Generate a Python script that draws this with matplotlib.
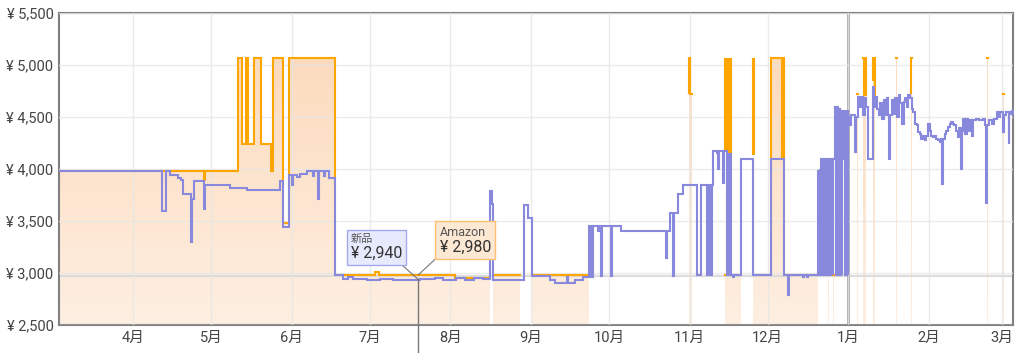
import datetime as dt
import numpy as np
import matplotlib
matplotlib.use('Agg')
import matplotlib.pyplot as plt
import matplotlib.dates as mdates
from matplotlib.path import Path
from matplotlib.colors import LinearSegmentedColormap
from matplotlib.ticker import FuncFormatter, MultipleLocator
from matplotlib.offsetbox import TextArea, VPacker, AnnotationBbox

plt.rcParams['font.family'] = ['Roboto', 'Noto Sans CJK JP', 'DejaVu Sans']

nan = np.nan
start = dt.date(2022, 3, 1)          # day 0
first_day, last_day = 2.5, 369.4
year_mark_day = 306                  # 1 Jan

# Amazon price (step data, nan = out of stock)
amazon_day = [2.5, 58.4, 58.7, 71.4, 72.9, 74.5, 75.2, 77.5, 80.2, 84.1, 84.7, 88.6, 91.1,
              108.7, 124.1, 125.6, 154.8, 168.3, 169.5, 179.8, 184.5, 206.4,
              244.8, 245.3, 245.8, 258.7, 264.8, 269.3, 276.4, 281.5, 294.3,
              298.2, 298.5, 300.1, 300.4, 309.3, 309.6, 311.8, 313.0, 315.4, 316.5,
              324.3, 324.6, 330.1, 330.5, 332.3, 332.6, 359.3, 359.6, 365.6, 365.9]
amazon_price = [3980, 3890, 3980, 5070, 4240, 5070, 4240, 5070, 4240, 3980, 5070, 3480, 5070,
                2980, 3010, 2980, 2950, nan, 2980, nan, 2980, nan,
                5070, 4720, nan, 2980, nan, 2980, 5070, 2980, nan,
                2980, nan, 2980, nan, 4720, nan, 5070, nan, 5070, nan,
                5070, nan, 5070, nan, 5070, nan, 5070, nan, 4720, nan]

# short Amazon price jumps (drawn as bars only)
spike_day = [244.9, 245.2, 258.8, 259.2, 259.9, 260.3, 260.7, 261.1, 269.3, 269.6, 280.6, 281.0,
             281.4, 312.2, 312.7, 315.5, 316.2, 330.3]
spike_top = [5070] * len(spike_day)
spike_bottom = [4720, 4720, 4180, 4180, 4140, 4140, 4140, 4140, 4130, 4130, 4110, 4110,
                4110, 4700, 4700, 4850, 4620, 4720]

# new (third-party) price
new_day = [2.5, 42.3, 43.6, 45.2, 48.4, 49.5, 50.0, 53.3, 53.6, 54.6, 58.4, 58.8, 68.3, 74.7,
           87.5, 88.6, 91.1, 92.0, 92.4, 94.0, 95.0, 97.8, 100.2, 100.5, 102.3, 102.6, 104.5,
           104.8, 106.4,
           108.7, 111.9, 113.8, 115.7, 121.0, 126.0, 131.0, 141.4, 147.0, 150.0, 155.0, 158.5,
           162.0, 165.5, 168.3, 169.0, 169.5, 181.5, 183.0, 184.5, 191.4, 193.3, 197.8, 198.4,
           201.0, 204.1,
           206.4, 206.8, 207.1, 207.5, 207.9, 209.7, 210.0, 210.9, 211.2, 214.8, 215.1, 218.7,
           236.0, 236.3, 237.5, 238.8, 239.1, 240.7, 242.5, 248.0, 249.3, 251.9, 252.2, 252.7,
           253.6, 254.0, 255.5, 256.1, 256.5, 258.0, 258.3, 259.3, 260.2, 260.9, 261.9, 262.2,
           264.8, 269.3, 276.4, 281.5, 283.0, 283.3, 288.8, 289.1, 290.1, 290.4,
           294.3, 294.6, 295.0, 295.3, 295.7, 296.0, 296.3, 297.0, 297.3, 298.3, 298.6, 299.0,
           299.3, 300.0, 300.3, 301.0, 301.4, 301.7, 302.0, 302.3, 302.6, 302.9, 303.2, 303.5,
           303.8, 304.0, 304.3, 304.6, 305.0, 305.3, 305.6, 305.8,
           306.1, 306.6, 307.0, 308.7, 308.9, 309.6, 310.3, 310.8, 311.6, 312.5, 313.0, 313.8,
           315.4, 315.8, 316.4, 317.0, 317.7, 318.3, 319.0, 319.6, 320.3, 320.9, 321.5, 321.9,
           322.2, 322.8, 323.5, 324.1, 324.7, 325.4, 326.0, 326.6, 327.3, 327.9, 328.5, 329.2,
           329.8, 330.4, 331.1, 331.7, 332.3, 333.0, 333.6, 334.2, 334.9, 335.5, 336.1, 336.8,
           337.4, 338.0, 338.7, 339.3, 339.9, 340.6, 341.2, 341.8, 342.2, 342.4, 343.1, 343.7,
           344.3, 345.0, 345.6, 346.2, 346.9, 347.5, 348.1, 348.8, 349.4, 349.7, 350.3, 350.9,
           351.6, 352.2, 352.8, 353.5, 354.1, 355.1, 356.4, 357.7, 358.6, 359.0, 359.4, 360.3,
           361.3, 362.2, 363.1, 363.9, 364.5, 365.4, 366.0, 366.9, 367.7, 367.9, 368.6]
new_price = [3980, 3600, 3980, 3945, 3910, 3890, 3760, 3300, 3710, 3880, 3620, 3850, 3820, 3800,
             3885, 3440, 3940, 3850, 3940, 3920, 3950, 3980, 3930, 3980, 3710, 3980, 3930,
             3980, 3910,
             2980, 2945, 2960, 2945, 2935, 2945, 2935, 2940, 2950, 2935, 2950, 2935,
             2950, 2940, 3790, 3660, 2935, 3650, 3530, 2970, 2930, 2900, 2965, 2900,
             2930, 2960,
             3450, 2960, 3450, 2960, 3450, 3400, 3450, 2970, 3450, 2970, 3450, 3400,
             3145, 3400, 3580, 2970, 3580, 3760, 3845, 2980, 3845, 2980, 3845, 2980,
             3845, 4175, 4150, 4000, 4170, 3870, 4170, 2980, 4140, 2980, 2960, 2980,
             4100, 2980, 4100, 2980, 2790, 2980, 2960, 2980, 2960, 2980,
             3985, 2980, 4000, 2980, 4100, 2980, 4100, 2980, 4100, 2980, 4100, 2980,
             4100, 2980, 4100, 4600, 2980, 4600, 2980, 4100, 4580, 2980, 4560, 2980,
             4560, 4100, 4560, 2980, 4560, 2980, 4560, 2980,
             4500, 4420, 4520, 4160, 4500, 4690, 4600, 4690, 4520, 4680, 4600, 4100,
             4790, 4600, 4690, 4580, 4520, 4630, 4480, 4660, 4520, 4680, 4520, 4100,
             4520, 4660, 4530, 4680, 4500, 4710, 4630, 4435, 4645, 4680, 4600, 4710,
             4680, 4580, 4550, 4435, 4420, 4355, 4340, 4290, 4320, 4275, 4320, 4435,
             4370, 4320, 4305, 4320, 4290, 4275, 4260, 4290, 3855, 4290, 4340, 4370,
             4400, 4435, 4450, 4435, 4420, 4370, 4305, 4390, 4000, 4370, 4485, 4340,
             4485, 4370, 4470, 4320, 4470, 4485, 4470, 4485, 4420, 3670, 4420, 4470,
             4435, 4485, 4550, 4500, 4550, 4355, 4515, 4550, 4240, 4530, 4550]

hover_day = 140.6
hover_new = 2940
hover_amazon = 2980

base = mdates.date2num(start)


def steps(days, prices, end):
    d = np.asarray(days, float)
    p = np.asarray(prices, float)
    d_next = np.append(d[1:], end)
    xs = np.column_stack([d, d_next]).ravel() + base
    ys = np.column_stack([p, p]).ravel()
    return xs, ys


fig = plt.figure(figsize=(10.24, 3.53), dpi=100)
ax = fig.add_axes([59 / 1024, 28 / 353, 954 / 1024, 312 / 353])

ax_x, ax_y = steps(amazon_day, amazon_price, last_day)
nx, ny = steps(new_day, new_price, last_day)

# peach gradient fill under the Amazon price
poly = ax.fill_between(ax_x, ax_y, 2500, facecolor='none', edgecolor='none')
clip = Path.make_compound_path(*poly.get_paths())
cmap = LinearSegmentedColormap.from_list('peach', ['#feefe2', '#fcdbbd'])
grad = np.linspace(0, 1, 256).reshape(-1, 1)
im = ax.imshow(grad, extent=(base + first_day, base + last_day, 2500, 5070), origin='lower',
               aspect='auto', cmap=cmap, zorder=1, interpolation='bilinear')
im.set_clip_path(clip, transform=ax.transData)

ax.axhline(2968, color='#dcdcdc', lw=1.6, zorder=1.6)
ax.axvline(base + year_mark_day, color='#a3a3a3', lw=2, zorder=1.7)

ax.plot(ax_x, ax_y, color='#ffa500', lw=1.5, zorder=3, solid_joinstyle='miter')
ax.vlines(np.asarray(spike_day) + base, spike_bottom, spike_top, color='#ffa500', lw=1.5, zorder=3)
ax.plot(nx, ny, color='#8888dd', lw=1.5, zorder=4, solid_joinstyle='miter')
ax.plot(nx[-1], ny[-1], 'o', color='#8888dd', ms=3.5, zorder=4)

# hover crosshair + tooltips
hx = base + hover_day
ax.plot([hx, hx], [hover_new, 2500 - 0.1 * 3000], color='#777777', lw=1, clip_on=False, zorder=5)

new_box = VPacker(children=[TextArea('新品', textprops=dict(size=8, color='#555555')),
                            TextArea('¥ ' + f'{hover_new:,}', textprops=dict(size=11.5, color='#333333'))],
                  align='left', pad=0, sep=1)
ab1 = AnnotationBbox(new_box, (hx, hover_new), xybox=(-30, 23), boxcoords='offset points',
                     box_alignment=(0.5, 0.5), frameon=True,
                     bboxprops=dict(boxstyle='square,pad=0.3', fc='#e6eafc', ec='#a4a8ec', lw=1),
                     arrowprops=dict(arrowstyle='-', color='#777777', lw=0.8, relpos=(0.9, 0.0),
                                     shrinkA=0, shrinkB=0), zorder=6)
ax.add_artist(ab1)

amz_box = VPacker(children=[TextArea('Amazon', textprops=dict(size=9, color='#555555')),
                            TextArea('¥ ' + f'{hover_amazon:,}', textprops=dict(size=11.5, color='#333333'))],
                  align='left', pad=0, sep=1)
ab2 = AnnotationBbox(amz_box, (hx, hover_amazon), xybox=(34, 25), boxcoords='offset points',
                     box_alignment=(0.5, 0.5), frameon=True,
                     bboxprops=dict(boxstyle='square,pad=0.3', fc='#fde9d3', ec='#ffbe70', lw=1),
                     arrowprops=dict(arrowstyle='-', color='#777777', lw=0.8, relpos=(0.0, 0.0),
                                     shrinkA=0, shrinkB=0), zorder=6)
ax.add_artist(ab2)

ax.set_xlim(base + first_day, base + last_day)
ax.set_ylim(2500, 5500)
ax.yaxis.set_major_locator(MultipleLocator(500))
ax.yaxis.set_major_formatter(FuncFormatter(lambda v, p: f'¥ {int(v):,}'))
ax.xaxis.set_major_locator(mdates.MonthLocator())
ax.xaxis.set_major_formatter(FuncFormatter(lambda v, p: f'{mdates.num2date(v).month}月'))
ax.tick_params(length=0, labelsize=10.5, colors='#444444')
ax.tick_params(axis='y', pad=4)
ax.tick_params(axis='x', pad=4)
ax.set_axisbelow(False)
ax.grid(color='#e6e6e6', lw=1, alpha=0.8, zorder=1.5)
for s in ax.spines.values():
    s.set_color('#808080')
    s.set_linewidth(1.5)

fig.savefig('out.png', dpi=100)
